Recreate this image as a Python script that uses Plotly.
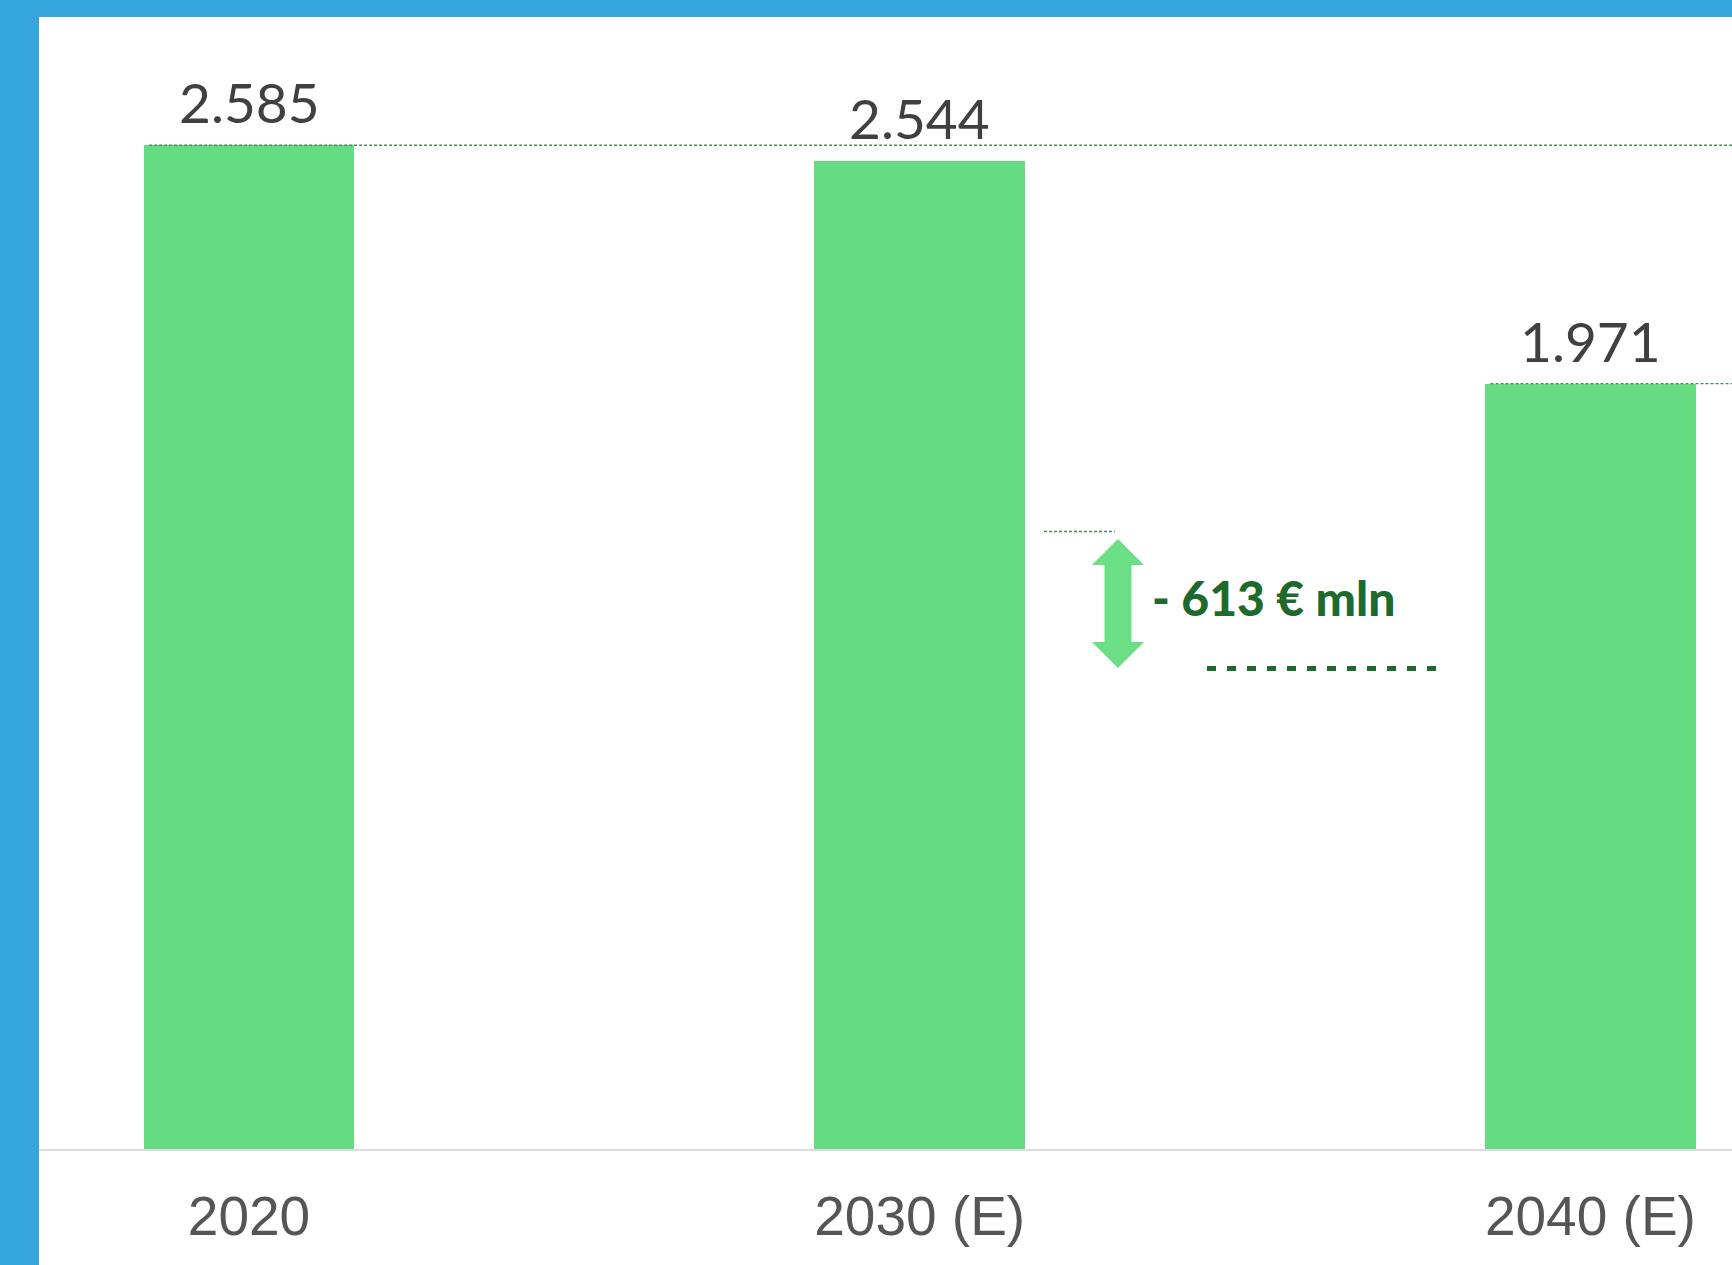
import plotly.graph_objects as go

# ---- data ----
categories = ["2020", "2030 (E)", "2040 (E)"]
values = [2585, 2544, 1971]
value_labels = [f"{v:,}".replace(",", ".") for v in values]
delta_label = "- 613 € mln"

# ---- geometry (pixels) ----
W, H = 1732, 1265
LEFT = 39          # blue left border / plot left
TOP_BAND = 17      # blue top band
BASE = 1149        # baseline pixel
PX_PER_UNIT = 0.3883
X0_PX, STEP_PX = 249.0, 670.7
BAR_W = 210.5 / STEP_PX

x_idx = list(range(len(categories)))
x_range = [(LEFT - X0_PX) / STEP_PX, (W - X0_PX) / STEP_PX]
y_range = [0, BASE / PX_PER_UNIT]

PLOT_W = W - LEFT
PLOT_H = BASE


def px_x(px):
    return (px - LEFT) / PLOT_W


def px_y(py):
    return (BASE - py) / PLOT_H


BLUE = "#34A6DC"
GREEN = "#66DC82"
ARROW_GREEN = "#6ADF85"
DARK_GREEN = "#1D6A2C"
DASH_COLOR = "#4A8A58"

fig = go.Figure()
fig.add_trace(go.Bar(
    x=x_idx, y=values, width=BAR_W,
    marker=dict(color=GREEN, line=dict(width=0)),
    hoverinfo="skip",
))

shapes = []
# white card
shapes.append(dict(type="rect", xref="paper", yref="paper",
                   x0=0, x1=1.01, y0=-0.3, y1=px_y(TOP_BAND),
                   fillcolor="white", line=dict(width=0), layer="below"))
# dashed reference lines at 2020 and 2040 values
for i in (0, 2):
    shapes.append(dict(type="line", xref="x", yref="y",
                       x0=x_idx[i] - BAR_W / 2 + 0.008, x1=x_range[1] + 0.1,
                       y0=values[i], y1=values[i],
                       line=dict(color=DASH_COLOR, width=1.3, dash="3px,2px"),
                       layer="above"))
# short dashed line near arrow
shapes.append(dict(type="line", xref="paper", yref="paper",
                   x0=px_x(1044), x1=px_x(1115), y0=px_y(531.5), y1=px_y(531.5),
                   line=dict(color=DASH_COLOR, width=1.3, dash="3px,2px")))
# double arrow
cx = 1118
pts = [(cx, 539), (cx + 26, 565), (cx + 13.5, 565), (cx + 13.5, 642), (cx + 26, 642),
       (cx, 668), (cx - 26, 642), (cx - 13.5, 642), (cx - 13.5, 565), (cx - 26, 565)]
path = "M " + " L ".join(f"{px_x(a):.5f},{px_y(b):.5f}" for a, b in pts) + " Z"
shapes.append(dict(type="path", xref="paper", yref="paper", path=path,
                   fillcolor=ARROW_GREEN, line=dict(width=0)))
# clipped second text line (only tops of letters visible)
shapes.append(dict(type="line", xref="paper", yref="paper",
                   x0=px_x(1207), x1=px_x(1437), y0=px_y(668.5), y1=px_y(668.5),
                   line=dict(color=DARK_GREEN, width=5, dash="9px,11px")))

annotations = []
for i, v in enumerate(values):
    annotations.append(dict(
        x=x_idx[i], y=v, xref="x", yref="y", text=value_labels[i],
        showarrow=False, yanchor="bottom", xanchor="center", yshift=8,
        font=dict(family="Lato, Liberation Sans, sans-serif", size=55, color="#404040"),
    ))
annotations.append(dict(
    x=px_x(1150), y=px_y(597), xref="paper", yref="paper", text=delta_label,
    showarrow=False, xanchor="left", yanchor="middle",
    font=dict(family="Lato, sans-serif", size=48, color=DARK_GREEN, weight=900),
))

fig.update_layout(
    width=W, height=H, autosize=False,
    margin=dict(l=LEFT, r=0, t=0, b=H - BASE, pad=0),
    paper_bgcolor=BLUE, plot_bgcolor="rgba(0,0,0,0)",
    showlegend=False, bargap=0,
    shapes=shapes, annotations=annotations,
    xaxis=dict(range=x_range, tickmode="array", tickvals=x_idx, ticktext=categories,
               showgrid=False, zeroline=False, showline=True, linecolor="#DDDDDD",
               linewidth=2, ticks="", ticklabelstandoff=18,
               tickfont=dict(family="Liberation Sans, Arial, sans-serif", size=55, color="#555555")),
    yaxis=dict(range=y_range, visible=False, showgrid=False, zeroline=False),
)

fig.write_html("out.html", config={"displayModeBar": False},
               post_script="document.body.style.margin='0';document.body.style.overflow='hidden';")
